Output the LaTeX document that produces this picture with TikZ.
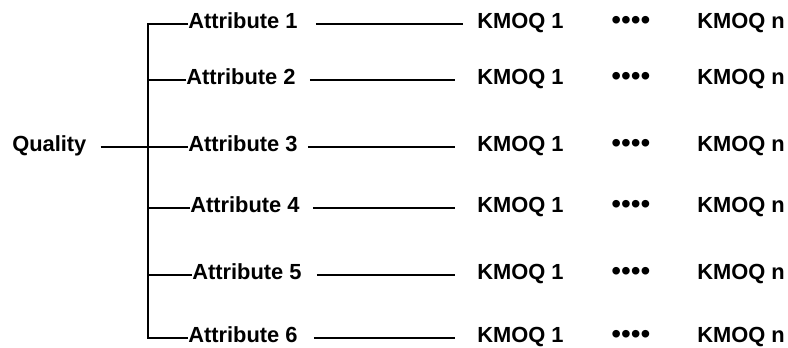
\documentclass[tikz,border=0pt]{standalone}
\usepackage{fontspec}
\setmainfont{Liberation Sans}
\begin{document}
\begin{tikzpicture}[x=0.75pt,y=-0.75pt,
  label/.style={anchor=west,inner sep=0pt,font=\bfseries\fontsize{16.4pt}{19pt}\selectfont,
    text height=0.72em,text depth=0pt},
  dotsbox/.style={anchor=west,inner sep=0pt,font=\fontsize{21pt}{24pt}\selectfont,
    text height=0.5em,text depth=0pt},
  wire/.style={line width=1.7pt,line join=miter}]
\useasboundingbox (0,0) rectangle (788,348);

\node[label] (q) at (12,147) {Quality};
\coordinate (spine) at (148,0);

% rows: y, attribute x, index, gap after attribute, gap before KMOQ 1
\foreach \y/\ax/\i/\ga/\gk in {24/188/1/18/14, 80/186/2/14/22, 147/188/3/10/22,
                               208/190/4/13/22, 275/192/5/15/22, 338/188/6/16/22} {
  \node[label] (a\i) at (\ax,\y) {Attribute \i};
  \node[label] (k\i) at (477,\y) {KMOQ 1};
  \node[dotsbox] (d\i) at (611,\y+2) {••••};
  \node[label] (n\i) at (697,\y) {KMOQ n};
  \draw[wire,shorten <=\ga*0.75pt,shorten >=\gk*0.75pt] (a\i.east) -- (k\i.west);
}

% tree connectors
\draw[wire] (a1.west) -- (a1.west -| spine) |- (a6.west);
\draw[wire] (a2.west) -- (a2.west -| spine);
\draw[wire] (a4.west) -- (a4.west -| spine);
\draw[wire] (a5.west) -- (a5.west -| spine);
\draw[wire,shorten <=14*0.75pt] (q.east) -- (a3.west);
\end{tikzpicture}
\end{document}
